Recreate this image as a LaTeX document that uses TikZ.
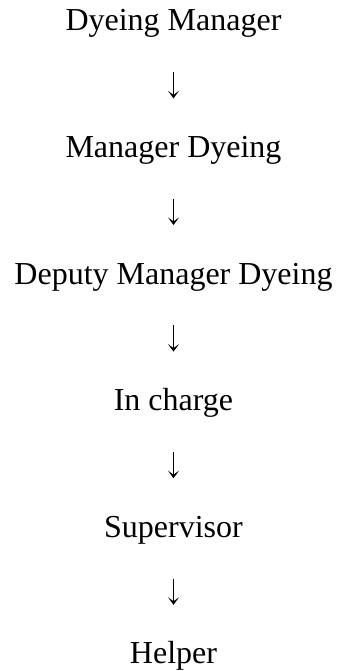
\documentclass[tikz,border=0pt]{standalone}
\usepackage{fontspec}
\setmainfont{Liberation Serif}
\usetikzlibrary{arrows.meta}
\begin{document}
\begin{tikzpicture}[x=1pt,y=1pt,
  rank/.style={inner sep=0pt, anchor=base, font=\fontsize{32}{38}\selectfont,
               text height=22.4pt, text depth=7pt},
  down/.style={line width=1.1pt,
               -{Stealth[length=7.5pt,width=11pt,inset=4pt]},
               shorten <=34pt, shorten >=36.6pt}]
  \useasboundingbox (0,0) rectangle (337,671);
  \def\cx{173.5}
  \node[rank] (dm)  at (\cx,640)   {Dyeing Manager};
  \node[rank] (md)  at (\cx,513.4) {Manager Dyeing};
  \node[rank] (dmd) at (\cx,386.8) {Deputy Manager Dyeing};
  \node[rank] (ic)  at (\cx,260.2) {In charge};
  \node[rank] (sv)  at (\cx,133.6) {Supervisor};
  \node[rank] (hp)  at (\cx,7)     {Helper};
  \draw[down] (dm)  -- (md);
  \draw[down] (md)  -- (dmd);
  \draw[down] (dmd) -- (ic);
  \draw[down] (ic)  -- (sv);
  \draw[down] (sv)  -- (hp);
\end{tikzpicture}
\end{document}
